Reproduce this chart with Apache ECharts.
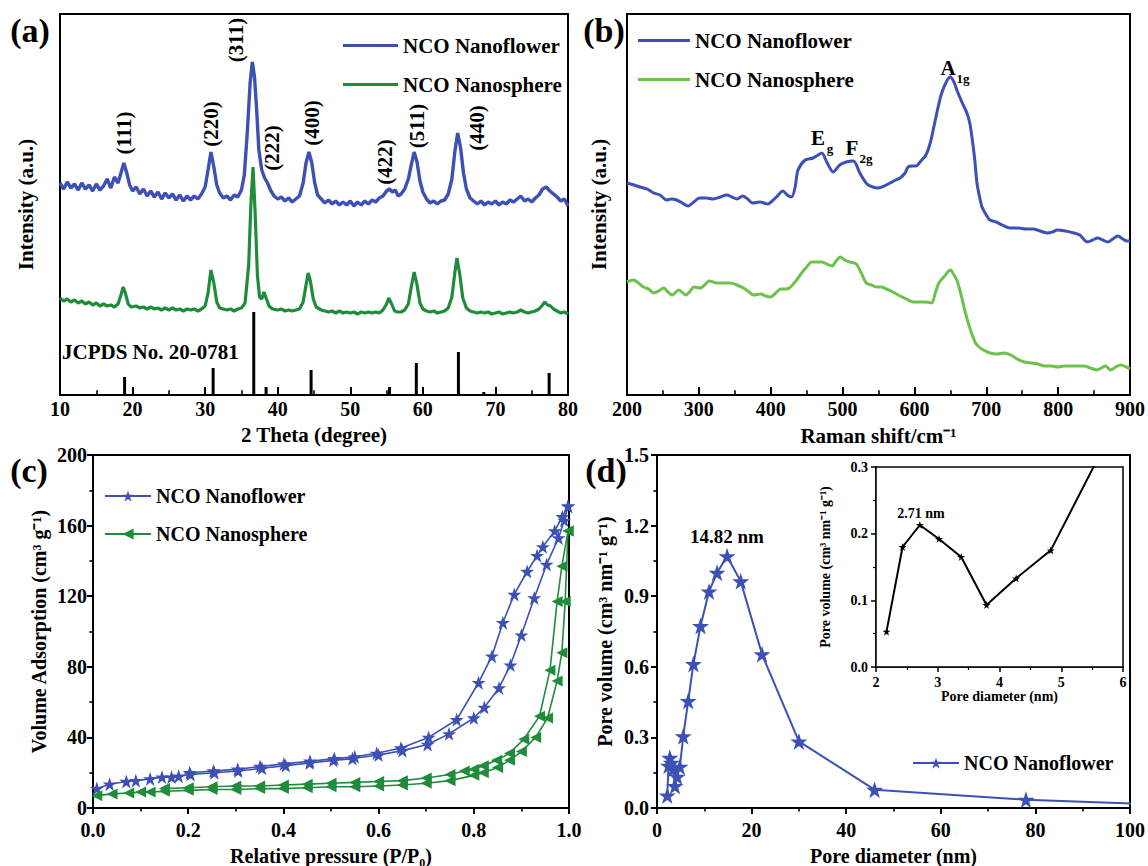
<!DOCTYPE html>
<html><head><meta charset="utf-8">
<script src="https://cdn.jsdelivr.net/npm/echarts@6/dist/echarts.min.js"></script>
<style>html,body{margin:0;padding:0;background:#fff}#c{width:1148px;height:866px}</style>
</head><body><div id="c"></div>
<script>
// ---------- DATA ----------
// (a) XRD, arbitrary intensity units
const xrdFlower = [[10,212],[10.5,206],[11,213],[11.5,207],[12,211],[12.5,205],[13,212],[13.5,206],[14,210],[14.5,204],[15,211],[15.5,205],[16,209],[16.5,216],[17,207],[17.5,218],[18,212],[18.4,222],[18.8,232],[19.2,222],[19.6,210],[20,204],[20.5,208],[21,201],[21.5,206],[22,199],[22.5,204],[23,198],[23.5,203],[24,196],[24.5,202],[25,197],[25.5,201],[26,195],[26.5,200],[27,194],[27.5,199],[28,195],[28.5,199],[29,196],[29.5,201],[30,208],[30.4,225],[30.8,243],[31.2,228],[31.6,210],[32,202],[32.5,197],[33,199],[33.5,195],[34,200],[34.5,198],[35,205],[35.4,220],[35.8,262],[36.2,312],[36.5,333],[36.8,318],[37.1,285],[37.4,245],[37.8,225],[38.2,217],[38.6,212],[39,205],[39.5,199],[40,196],[40.5,198],[41,194],[41.5,197],[42,193],[42.5,196],[43,199],[43.5,212],[43.9,232],[44.3,243],[44.7,232],[45.1,212],[45.5,200],[46,196],[46.5,192],[47,195],[47.5,191],[48,194],[48.5,190],[49,193],[49.5,190],[50,194],[50.5,189],[51,193],[51.5,190],[52,194],[52.5,191],[53,195],[53.5,193],[54,197],[54.5,199],[55,204],[55.4,206],[55.8,203],[56.2,205],[56.6,199],[57,201],[57.5,206],[58,216],[58.4,230],[58.8,243],[59.2,233],[59.6,214],[60,203],[60.5,196],[61,192],[61.5,194],[62,191],[62.5,194],[63,195],[63.5,201],[64,216],[64.4,243],[64.8,262],[65.2,247],[65.6,222],[66,206],[66.5,197],[67,194],[67.5,191],[68,194],[68.5,190],[69,193],[69.5,191],[70,194],[70.5,190],[71,193],[71.5,191],[72,195],[72.5,193],[73,196],[73.5,199],[74,194],[74.5,196],[75,193],[75.5,197],[76,200],[76.5,206],[77,208],[77.5,204],[78,201],[78.5,198],[79,194],[79.5,196],[80,189]];
const xrdSphere = [[10,97],[10.5,94],[11,96],[11.5,93],[12,95],[12.5,92],[13,94],[13.5,91],[14,93],[14.5,90],[15,92],[15.5,89],[16,91],[16.5,89],[17,90],[17.5,88],[18,91],[18.4,100],[18.7,108],[19,102],[19.4,91],[19.8,88],[20.5,89],[21,87],[21.5,88],[22,86],[22.5,88],[23,86],[23.5,87],[24,85],[24.5,87],[25,85],[25.5,87],[26,85],[26.5,86],[27,84],[27.5,86],[28,85],[28.5,86],[29,84],[29.5,86],[30,89],[30.4,102],[30.8,125],[31.2,112],[31.6,93],[32,87],[32.5,86],[33,85],[33.5,86],[34,84],[34.5,86],[35,87],[35.5,92],[36,130],[36.3,190],[36.6,228],[36.9,180],[37.2,120],[37.5,98],[37.8,96],[38.1,103],[38.4,97],[38.8,89],[39.3,86],[40,85],[40.5,86],[41,84],[41.5,85],[42,84],[42.5,85],[43,86],[43.5,93],[43.9,110],[44.2,122],[44.5,114],[44.9,96],[45.3,88],[46,85],[46.5,84],[47,83],[47.5,84],[48,82],[48.5,84],[49,82],[49.5,83],[50,82],[50.5,83],[51,81],[51.5,83],[52,82],[52.5,83],[53,82],[53.5,83],[54,82],[54.5,85],[55,91],[55.3,97],[55.7,91],[56.1,84],[56.5,83],[57,83],[57.5,85],[58,91],[58.4,108],[58.8,123],[59.2,110],[59.6,92],[60,86],[60.5,84],[61,83],[61.5,84],[62,82],[62.5,83],[63,84],[63.5,87],[64,98],[64.4,122],[64.7,137],[65.1,120],[65.5,97],[66,87],[66.5,84],[67,83],[67.5,82],[68,83],[68.5,82],[69,83],[69.5,81],[70,82],[70.5,83],[71,81],[71.5,82],[72,83],[72.5,82],[73,83],[73.5,85],[74,83],[74.5,82],[75,83],[75.5,84],[76,86],[76.5,90],[76.8,93],[77.2,90],[77.6,89],[78,86],[78.5,84],[79,82],[79.5,83],[80,81]];
const jcpdsPos = [18.9, 31.1, 36.7, 38.4, 44.6, 55.4, 59.1, 64.9, 68.4, 77.4];
const jcpdsInt = [18, 27, 83, 8, 25, 8, 32, 43, 3, 22];
const hklLabels = ['(111)','(220)','(311)','(222)','(400)','(422)','(511)','(440)'];

// (b) Raman
const ramanFlower = [[200,212],[210,210],[218,208],[228,206],[237,202],[246,200],[255,195],[262,196],[269,195],[277,192],[285,189],[293,193],[301,197],[310,197],[320,196],[330,198],[339,200],[346,198],[353,196],[361,199],[368,196],[375,192],[385,193],[396,191],[402,194],[408,198],[417,204],[423,200],[429,198],[434,208],[438,225],[448,235],[459,237],[466,240],[471,242],[478,233],[487,223],[496,230],[505,233],[515,234],[524,222],[534,211],[542,208],[550,207],[558,209],[566,212],[574,215],[580,217],[587,222],[591,228],[597,229],[602,229],[609,234],[616,240],[622,252],[627,268],[633,288],[638,302],[645,314],[650,318],[655,313],[659,305],[666,293],[673,282],[677,272],[680,258],[684,235],[687,212],[691,197],[694,188],[700,180],[705,175],[714,173],[722,170],[733,167],[745,167],[755,166],[765,166],[775,164],[785,162],[792,163],[799,165],[810,164],[822,162],[830,160],[841,153],[848,155],[855,157],[862,155],[869,153],[876,156],[883,159],[890,156],[896,154],[900,154]];
const ramanSphere = [[200,113],[209,115],[216,112],[223,108],[230,106],[237,102],[244,104],[251,107],[257,103],[263,100],[272,105],[282,100],[288,104],[293,108],[302,107],[308,110],[314,114],[320,113],[325,112],[335,112],[344,112],[353,110],[362,107],[370,103],[376,100],[386,101],[393,99],[400,98],[407,102],[414,106],[420,106],[426,107],[435,114],[443,122],[450,128],[457,133],[464,133],[471,133],[478,131],[485,129],[491,134],[497,138],[503,135],[510,133],[519,131],[526,122],[533,112],[540,110],[547,108],[554,108],[561,106],[570,103],[580,99],[589,96],[598,93],[608,93],[617,93],[624,92],[629,102],[634,112],[642,119],[650,125],[655,120],[659,115],[665,100],[671,82],[678,65],[685,52],[690,48],[696,45],[705,42],[715,41],[725,42],[734,40],[743,36],[753,33],[763,32],[772,31],[781,29],[790,29],[800,28],[808,29],[820,29],[836,29],[845,27],[854,25],[860,27],[866,29],[873,25],[880,28],[887,30],[895,28],[900,26]];

// (c) N2 isotherms
const flowerAds = [[0.008,11],[0.035,13.5],[0.07,15],[0.09,15.5],[0.12,16.5],[0.145,17.5],[0.165,17.5],[0.18,18],[0.205,19],[0.255,20],[0.305,21],[0.355,22.5],[0.405,24],[0.455,25.5],[0.505,27],[0.545,28],[0.6,30],[0.65,32.5],[0.703,36],[0.748,42],[0.8,51],[0.822,57],[0.853,68],[0.877,81],[0.9,98],[0.927,119],[0.953,138],[0.978,153],[0.99,163],[0.998,171]];
const flowerDes = [[0.998,171],[0.986,165],[0.97,157],[0.945,148],[0.933,143],[0.912,134],[0.885,121],[0.861,105],[0.838,86],[0.81,71],[0.764,50],[0.705,40],[0.647,34],[0.596,31],[0.55,29],[0.507,28],[0.456,26.5],[0.401,25],[0.351,23.5],[0.304,22],[0.253,21],[0.203,20]];
const sphereAds = [[0.008,7],[0.04,8],[0.075,8.5],[0.1,9],[0.12,9],[0.15,9.5],[0.2,10],[0.25,10.5],[0.3,10.5],[0.35,11],[0.4,11],[0.45,11.5],[0.5,12],[0.55,12],[0.6,12.5],[0.65,13],[0.7,14],[0.75,15.5],[0.8,18.5],[0.82,20],[0.85,23],[0.875,27],[0.9,32],[0.93,40],[0.955,51],[0.975,72],[0.985,88],[0.992,117],[0.998,157]];
const sphereDes = [[0.998,157],[0.985,137],[0.975,117],[0.96,78],[0.938,52],[0.905,39],[0.875,31],[0.848,27],[0.82,24],[0.8,22],[0.78,21],[0.75,19],[0.7,17],[0.65,15.5],[0.6,15],[0.55,14.5],[0.5,14],[0.45,13.5],[0.4,13],[0.35,12.5],[0.3,12.5],[0.25,12],[0.2,11.5],[0.15,11]];

// (d) pore size distribution (last point lies beyond the axis, line runs to the edge)
const poreDiameter = [2.17,2.43,2.71,3.02,3.38,3.79,4.27,4.83,5.55,6.6,7.7,9.2,11,12.7,14.82,17.7,22.2,30,46,78,120];
const poreVolume   = [0.053,0.18,0.213,0.192,0.165,0.093,0.133,0.175,0.305,0.455,0.612,0.773,0.92,1.0,1.07,0.963,0.653,0.283,0.078,0.035,0.005];

// ---------- STYLE ----------
const FONT = "'Times New Roman','Liberation Serif',serif";
const BLUE = '#3c50b6', GREEN = '#1f8c3c', LGREEN = '#6cc24a';
const STAR = 'path://M50,0 L61.8,35.4 L99,35.4 L68.9,57.3 L80.4,92.7 L50,70.8 L19.6,92.7 L31.1,57.3 L1,35.4 L38.2,35.4 Z';

function tstyle(size){ return {fontFamily: FONT, fontWeight: 'bold', fontSize: size, color: '#000'}; }

function axis(gi, o){
  return {
    type: 'value', gridIndex: gi, min: o.min, max: o.max, interval: o.interval,
    axisLine: {show: true, onZero: false, lineStyle: {color: '#000', width: o.lw || 2}},
    axisTick: {show: o.tick !== false, inside: !!o.inside, length: o.tl || 7, lineStyle: {color: '#000', width: o.lw || 2}},
    minorTick: {show: o.tick !== false, splitNumber: 2, length: (o.tl || 7) * 0.6, lineStyle: {color: '#000', width: (o.lw || 2) * 0.8}},
    splitLine: {show: false},
    axisLabel: Object.assign({show: o.label !== false, margin: o.margin || 6, formatter: o.fmt, hideOverlap: false, showMinLabel: true, showMaxLabel: true}, tstyle(o.fs || 20)),
    name: o.name || '', nameLocation: 'middle', nameGap: o.nameGap || 30,
    nameTextStyle: tstyle(o.nfs || 21)
  };
}

const grids = [
  {left: 60, top: 14, width: 508, height: 381},
  {left: 627, top: 14, width: 503, height: 381},
  {left: 93, top: 455, width: 476, height: 353},
  {left: 657, top: 455, width: 473, height: 353},
  {left: 876, top: 467, width: 247, height: 200, backgroundColor: '#fff', z: 5}
].map(g => Object.assign({show: true, borderColor: '#000', borderWidth: 2, backgroundColor: 'transparent', containLabel: false, outerBoundsMode: 'none'}, g));
grids[4].borderWidth = 1.5;

const f1 = v => v.toFixed(1);
const xAxes = [
  axis(0, {min: 10, max: 80, interval: 10, inside: true, tl: 8, margin: 4, name: '2 Theta (degree)', nameGap: 29}),
  axis(1, {min: 200, max: 900, interval: 100, inside: true, tl: 8, margin: 4, name: 'Raman shift/cm\u207B\u00B9', nameGap: 30}),
  axis(2, {min: 0, max: 1, interval: 0.2, tl: 6, margin: 12, fmt: f1, name: 'Relative pressure (P/P\u2080)', nameGap: 38, nfs: 20}),
  axis(3, {min: 0, max: 100, interval: 20, tl: 6, margin: 12, name: 'Pore diameter (nm)', nameGap: 38, nfs: 20}),
  axis(4, {min: 2, max: 6, interval: 1, tl: 5, lw: 1.5, margin: 8, fs: 14, name: 'Pore diameter (nm)', nameGap: 22, nfs: 14})
];
const yAxes = [
  axis(0, {min: 0, max: 381, tick: false, label: false, name: 'Intensity (a.u.)', nameGap: 24}),
  axis(1, {min: 0, max: 381, tick: false, label: false, name: 'Intensity (a.u.)', nameGap: 18}),
  axis(2, {min: 0, max: 200, interval: 40, tl: 6, margin: 6, name: 'Volume Adsorption (cm\u00B3 g\u207B\u00B9)', nameGap: 44, nfs: 20}),
  axis(3, {min: 0, max: 1.5, interval: 0.3, tl: 6, margin: 8, fmt: f1, name: 'Pore volume (cm\u00B3 nm\u207B\u00B9 g\u207B\u00B9)', nameGap: 42, nfs: 20}),
  axis(4, {min: 0, max: 0.3, interval: 0.1, tl: 5, lw: 1.5, margin: 8, fs: 14, fmt: f1, name: 'Pore volume (cm\u00B3 nm\u207B\u00B9 g\u207B\u00B9)', nameGap: 44, nfs: 14})
];

const poreData = poreDiameter.map((d, i) => i === poreDiameter.length - 1 ? {value: [d, poreVolume[i]], symbol: 'none'} : [d, poreVolume[i]]);

function lineS(name, gi, data, color, extra){
  return Object.assign({
    type: 'line', name, xAxisIndex: gi, yAxisIndex: gi, data, showSymbol: false, symbol: 'none',
    lineStyle: {color, width: 2.5}, itemStyle: {color}, color, z: 3, animation: false, clip: true
  }, extra || {});
}

const series = [
  lineS('NCO Nanoflower|a', 0, xrdFlower, BLUE, {lineStyle: {color: BLUE, width: 3.4}}),
  lineS('NCO Nanosphere|a', 0, xrdSphere, GREEN, {lineStyle: {color: GREEN, width: 3.2}}),
  {type: 'bar', name: 'JCPDS', xAxisIndex: 0, yAxisIndex: 0, barWidth: 3, itemStyle: {color: '#000'},
   data: jcpdsPos.map((p, i) => [p, jcpdsInt[i]]), animation: false},
  lineS('NCO Nanoflower|b', 1, ramanFlower, BLUE, {smooth: 0.3, lineStyle: {color: BLUE, width: 3}}),
  lineS('NCO Nanosphere|b', 1, ramanSphere, LGREEN, {smooth: 0.3, lineStyle: {color: LGREEN, width: 3}}),
  lineS('NCO Nanoflower|c', 2, flowerAds, BLUE, {showSymbol: true, symbol: STAR, symbolSize: 14, lineStyle: {color: BLUE, width: 1.6}}),
  lineS('NCO Nanoflower|c', 2, flowerDes, BLUE, {showSymbol: true, symbol: STAR, symbolSize: 14, lineStyle: {color: BLUE, width: 1.6}}),
  lineS('NCO Nanosphere|c', 2, sphereAds, GREEN, {showSymbol: true, symbol: 'triangle', symbolRotate: 90, symbolSize: 11, lineStyle: {color: GREEN, width: 1.6}}),
  lineS('NCO Nanosphere|c', 2, sphereDes, GREEN, {showSymbol: true, symbol: 'triangle', symbolRotate: 90, symbolSize: 11, lineStyle: {color: GREEN, width: 1.6}}),
  lineS('NCO Nanoflower|d', 3, poreData, BLUE, {showSymbol: true, symbol: STAR, symbolSize: 17, lineStyle: {color: BLUE, width: 2}}),
  lineS('inset', 4, poreData, '#000', {showSymbol: true, symbol: STAR, symbolSize: 8, lineStyle: {color: '#000', width: 2}, z: 10})
];

function legend(names, left, top, gap, fs, iw, lineOnly){
  return {data: lineOnly ? names.map(n => ({name: n, icon: 'rect'})) : names,
    left, top, orient: 'vertical', itemGap: gap, itemWidth: iw, itemHeight: lineOnly ? 3 : 14,
    selectedMode: false, formatter: n => n.split('|')[0], textStyle: tstyle(fs), padding: 0};
}

function txt(text, x, y, size, opts){
  return Object.assign({type: 'text', x, y, z: 100, style: {text, fontFamily: FONT, fontWeight: 'bold', fontSize: size, fill: '#000',
    textAlign: 'center', textVerticalAlign: 'middle', align: 'center', verticalAlign: 'middle'}}, opts || {});
}
const R = Math.PI / 2;
const hklPos = [[124,133],[211,124],[236,40],[272,148],[312,123],[385,162],[417,126],[477,128]];
const graphics = [
  txt('(a)', 30, 30, 34), txt('(b)', 604, 30, 34), txt('(c)', 29, 470, 34), txt('(d)', 606, 470, 34),
  ...hklLabels.map((t, i) => txt(t, hklPos[i][0], hklPos[i][1], 21, {rotation: R})),
  txt('JCPDS No. 20-0781', 62, 352, 21, {style: {text: 'JCPDS No. 20-0781', fontFamily: FONT, fontWeight: 'bold', fontSize: 21, fill: '#000', textAlign: 'left', align: 'left', textVerticalAlign: 'middle', verticalAlign: 'middle'}}),
  txt('E', 818, 138, 21), txt('g', 830, 148, 13),
  txt('F', 852, 148, 21), txt('2g', 866, 158, 13),
  txt('A', 948, 68, 21), txt('1g', 963, 78, 13),
  txt('14.82 nm', 727, 536, 19), txt('2.71 nm', 921, 513, 14)
];

const chart = echarts.init(document.getElementById('c'), null, {renderer: 'svg'});
chart.setOption({
  animation: false,
  backgroundColor: '#fff',
  grid: grids, xAxis: xAxes, yAxis: yAxes, series,
  legend: [
    legend(['NCO Nanoflower|a', 'NCO Nanosphere|a'], 343, 35, 18, 21, 55, true),
    legend(['NCO Nanoflower|b', 'NCO Nanosphere|b'], 638, 30, 18, 21, 52, true),
    legend(['NCO Nanoflower|c', 'NCO Nanosphere|c'], 104, 486, 18, 20, 46),
    legend(['NCO Nanoflower|d'], 912, 753, 18, 20, 46)
  ],
  graphic: graphics
});
</script></body></html>
